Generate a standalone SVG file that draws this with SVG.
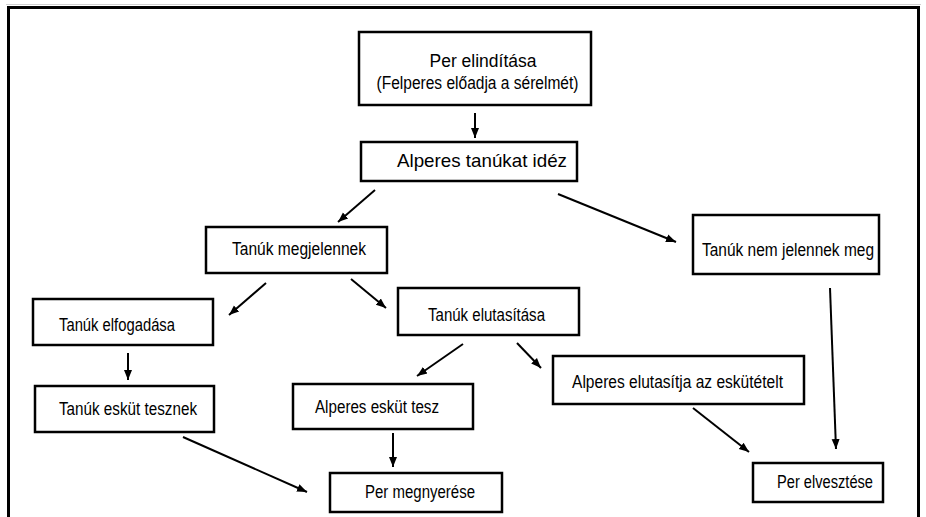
<svg xmlns="http://www.w3.org/2000/svg" width="926" height="517" viewBox="0 0 926 517">
<style>
.box{fill:#fff;stroke:#000;stroke-width:2.5}
.t{font-family:"Liberation Sans",Arial,sans-serif;font-size:17.5px;fill:#000;text-anchor:middle}
.big{font-size:18.5px}
.c{stroke:#000;stroke-width:2;fill:none;marker-end:url(#ah)}
</style>
<defs>
<marker id="ah" markerUnits="userSpaceOnUse" markerWidth="10" markerHeight="10" viewBox="0 0 10 10" refX="10" refY="5" orient="auto">
<path d="M0,1 L10,5 L0,9 Z" fill="#000"/>
</marker>
</defs>
<rect x="0" y="0" width="926" height="517" fill="#fff"/>
<line x1="6" y1="4.5" x2="921" y2="4.5" stroke="#d0d0d0" stroke-width="1"/>
<path d="M8.5,517 V7.5 H918.5 V517" fill="none" stroke="#000" stroke-width="3"/>
<g id="connectors">
<line class="c" x1="475" y1="113" x2="475" y2="138"/>
<line class="c" x1="375" y1="190" x2="338" y2="222"/>
<line class="c" x1="558" y1="194" x2="676" y2="242"/>
<line class="c" x1="266" y1="283" x2="229" y2="315"/>
<line class="c" x1="351" y1="279" x2="386" y2="308"/>
<line class="c" x1="128" y1="353" x2="128" y2="380"/>
<line class="c" x1="183" y1="437" x2="307" y2="492"/>
<line class="c" x1="463" y1="344" x2="417" y2="376"/>
<line class="c" x1="517" y1="343" x2="541" y2="368"/>
<line class="c" x1="393" y1="433" x2="393" y2="467"/>
<line class="c" x1="693" y1="408" x2="749" y2="452"/>
<line class="c" x1="830" y1="288" x2="836" y2="449"/>
</g>
<g id="n1"><rect class="box" x="359" y="32" width="232" height="73"/><text class="t" x="483" y="67" textLength="107" lengthAdjust="spacingAndGlyphs">Per elindítása</text><text class="t" x="477.5" y="88.5" textLength="202" lengthAdjust="spacingAndGlyphs">(Felperes előadja a sérelmét)</text></g>
<g id="n2"><rect class="box" x="361" y="142" width="216" height="39"/><text class="t big" x="482" y="167" textLength="170" lengthAdjust="spacingAndGlyphs">Alperes tanúkat idéz</text></g>
<g id="n3"><rect class="box" x="206" y="227" width="181" height="46"/><text class="t" x="299" y="255" textLength="134" lengthAdjust="spacingAndGlyphs">Tanúk megjelennek</text></g>
<g id="n4"><rect class="box" x="693" y="215" width="186" height="59"/><text class="t" x="788" y="255.5" textLength="172" lengthAdjust="spacingAndGlyphs">Tanúk nem jelennek meg</text></g>
<g id="n5"><rect class="box" x="33" y="299" width="180" height="46"/><text class="t" x="117" y="330.5" textLength="116" lengthAdjust="spacingAndGlyphs">Tanúk elfogadása</text></g>
<g id="n6"><rect class="box" x="398" y="288" width="181" height="47"/><text class="t" x="486.5" y="320.5" textLength="117" lengthAdjust="spacingAndGlyphs">Tanúk elutasítása</text></g>
<g id="n7"><rect class="box" x="35" y="386" width="179" height="46"/><text class="t" x="128" y="414.5" textLength="138" lengthAdjust="spacingAndGlyphs">Tanúk esküt tesznek</text></g>
<g id="n8"><rect class="box" x="293" y="384" width="180" height="45"/><text class="t" x="377" y="412.5" textLength="124" lengthAdjust="spacingAndGlyphs">Alperes esküt tesz</text></g>
<g id="n9"><rect class="box" x="330" y="473" width="172" height="39"/><text class="t" x="420" y="497.5" textLength="110" lengthAdjust="spacingAndGlyphs">Per megnyerése</text></g>
<g id="n10"><rect class="box" x="553" y="356" width="251" height="48"/><text class="t" x="677.5" y="387.5" textLength="211" lengthAdjust="spacingAndGlyphs">Alperes elutasítja az eskütételt</text></g>
<g id="n11"><rect class="box" x="753" y="463" width="130" height="39"/><text class="t" x="825" y="487.5" textLength="96" lengthAdjust="spacingAndGlyphs">Per elvesztése</text></g>
</svg>
